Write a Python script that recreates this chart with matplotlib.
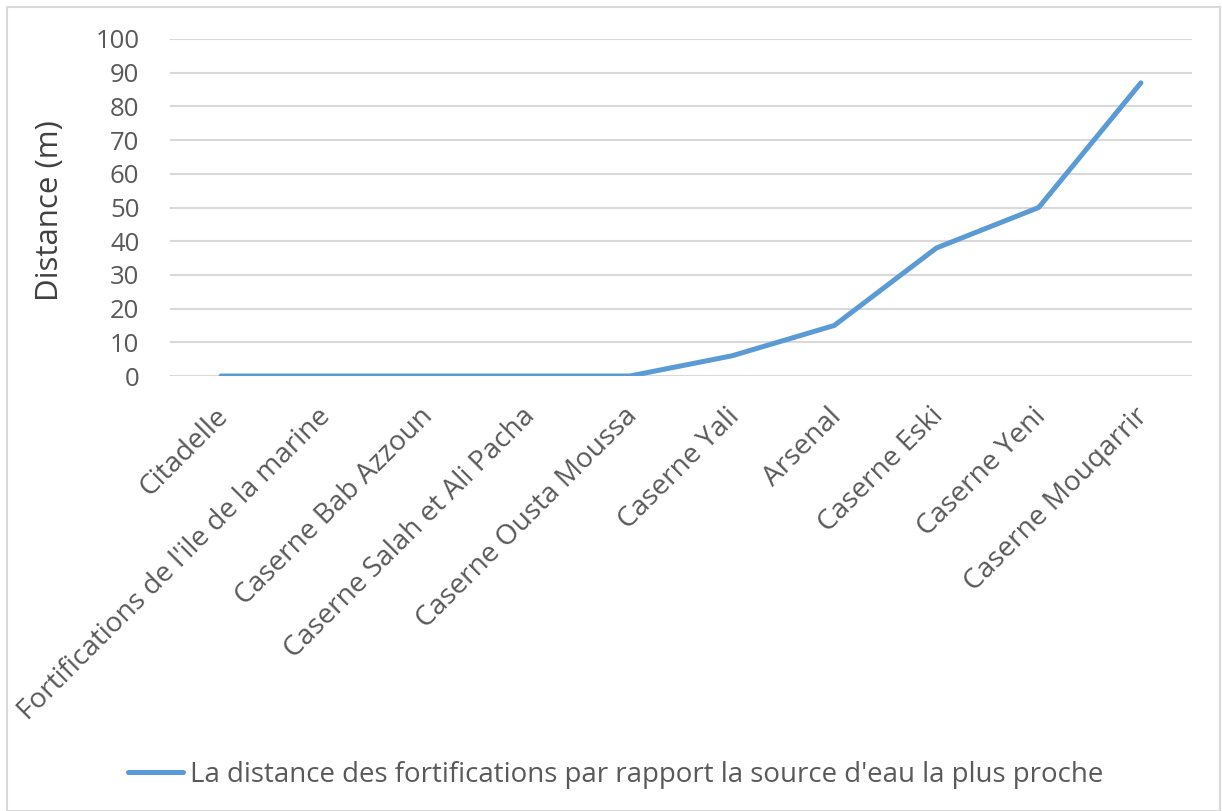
import matplotlib
matplotlib.use("Agg")
import matplotlib.pyplot as plt
from matplotlib.lines import Line2D
from matplotlib.transforms import ScaledTranslation

plt.rcParams['font.family'] = ['Open Sans', 'DejaVu Sans']

categories = [
    "Citadelle",
    "Fortifications de l'ile de la marine",
    "Caserne Bab Azzoun",
    "Caserne Salah et Ali Pacha",
    "Caserne Ousta Moussa",
    "Caserne Yali",
    "Arsenal",
    "Caserne Eski",
    "Caserne Yeni",
    "Caserne Mouqarrir",
]
distances = [0, 0, 0, 0, 0, 6, 15, 38, 50, 87]
y_ticks = list(range(0, 101, 10))
series_label = "La distance des fortifications par rapport la source d'eau la plus proche"

TEXT = "#595959"
GRID = "#D9D9D9"
LINE = "#5B9BD5"

W, H = 1222, 811
fig = plt.figure(figsize=(W / 100, H / 100), dpi=100)
fig.patch.set_facecolor("white")

left, right = 170 / W, 1192 / W
top, bottom = 1 - 39 / H, 1 - 376 / H
ax = fig.add_axes([left, bottom, right - left, top - bottom])

x = list(range(len(categories)))
line, = ax.plot(x, distances, color=LINE, linewidth=3.6,
                solid_capstyle="round", solid_joinstyle="round",
                label=series_label, zorder=3)

ax.set_xlim(-0.5, len(categories) - 0.5)
ax.set_ylim(0, 100)
ax.set_yticks(y_ticks)
ax.set_yticklabels([str(v) for v in y_ticks])
ax.yaxis.grid(True, color=GRID, linewidth=1.5)
ax.set_axisbelow(True)
for s in ax.spines.values():
    s.set_visible(False)

ax.tick_params(axis="y", length=0, pad=22, labelsize=18.5, labelcolor=TEXT)
ax.tick_params(axis="x", length=0, pad=19, labelsize=20.2, labelcolor=TEXT)
ax.set_xticks(x)
ax.set_xticklabels(categories, rotation=45, ha="right", va="top",
                   rotation_mode="anchor")
shift = ScaledTranslation(-7 / 100, 0, fig.dpi_scale_trans)
for lbl in ax.get_xticklabels():
    lbl.set_transform(lbl.get_transform() + shift)

ax.set_ylabel("Distance (m)", fontsize=22.5, color="#404040")
ax.yaxis.set_label_coords(-(170 - 65) / (1192 - 170), 0.49)

fig.legend(handles=[line], labels=[series_label], loc="center",
           bbox_to_anchor=(616 / W, 1 - 775 / H), frameon=False,
           fontsize=19.9, labelcolor=TEXT, handlelength=2.0,
           handletextpad=0.25)

# light frame around the chart area
bx0, by0, bx1, by1 = 6.5, 6.5, 1219.5, 810.5
fig.add_artist(Line2D([bx0 / W, bx0 / W, bx1 / W, bx1 / W, bx0 / W],
                      [1 - by1 / H, 1 - by0 / H, 1 - by0 / H, 1 - by1 / H, 1 - by1 / H],
                      transform=fig.transFigure, color=GRID, linewidth=1.5))

fig.savefig("out.png", dpi=100, facecolor="white")
